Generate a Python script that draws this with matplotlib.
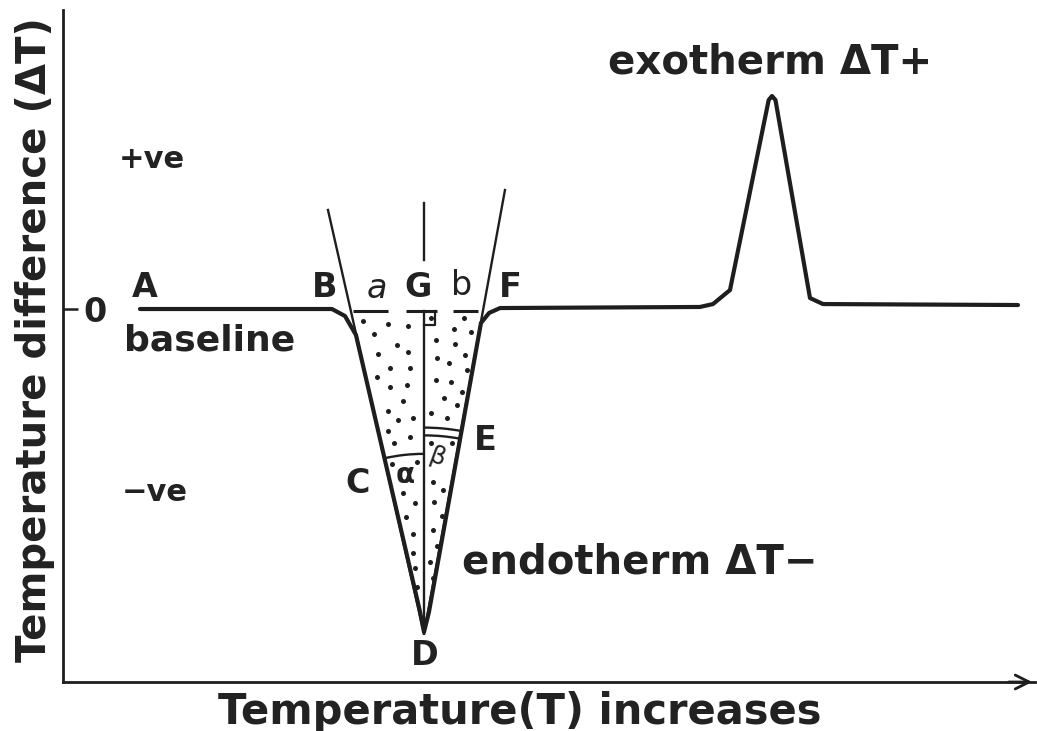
import matplotlib
matplotlib.use("Agg")
import matplotlib.pyplot as plt
from matplotlib.patches import Arc

plt.rcParams['font.family'] = ['DejaVu Sans']

# ---- data (schematic DTA curve) ----
curve_T  = [7.92, 27.67, 29.01, 30.14, 36.69, 37.14, 37.65, 43.00, 43.83, 44.96,
            65.53, 66.87, 68.62, 72.60, 72.94, 73.30, 76.85, 78.19, 98.25]
curve_dT = [0.0, 0.0, -0.72, -2.67, -30.97, -33.23, -31.17, -1.44, -0.41, 0.10,
            0.21, 0.51, 1.95, 21.5, 21.91, 21.5, 1.13, 0.51, 0.41]

D_point = (37.14, -33.40)
left_tangent_top = (27.26, 10.19)
right_tangent_top = (45.47, 12.24)
vert_T = 37.1
vert_upper = (10.9, 5.04)
vert_lower = (-0.21, -32.8)
dash_y = -0.21
dash_segments = [(29.84, 33.44), (35.29, 38.48), (40.12, 42.70)]
square_T = (37.1, 38.3)
square_dT = (-0.21, -1.65)
alpha_arc_r = 18.5
beta_arc_r = [20.4, 21.2]
left_angle, right_angle = 102.8, 79.6

# stipple dots inside the endotherm triangle
dots_T = [30.90, 33.47, 35.52, 32.03, 34.33, 32.38, 35.52, 33.64, 35.70, 32.27,
          33.64, 35.36, 34.95, 33.47, 34.50, 36.04, 33.47, 35.70, 34.08, 33.82,
          36.39, 35.01, 36.21, 35.29, 36.04, 35.98, 36.21, 36.39,
          37.86, 41.29, 40.26, 41.98, 38.34, 40.33, 41.36, 38.45, 39.71, 41.53,
          38.34, 39.92, 41.08, 39.23, 40.53, 37.86, 39.48, 37.86, 40.05, 38.04,
          39.06, 38.17, 38.96, 38.04, 38.51, 37.76, 38.04]
dots_dT = [-1.23, -1.57, -1.72, -2.60, -3.70, -4.63, -4.45, -6.10, -6.04, -6.97,
           -8.06, -7.85, -9.47, -10.49, -11.42, -11.18, -12.52, -13.14, -13.82, -15.98,
           -15.71, -18.90, -19.99, -21.43, -23.15, -25.07, -26.68, -28.63,
           -0.90, -0.90, -2.06, -2.40, -3.19, -3.63, -4.73, -5.07, -5.59, -6.28,
           -7.30, -7.48, -8.57, -9.13, -9.88, -10.73, -11.24, -13.82, -13.82, -17.77,
           -18.62, -19.89, -21.30, -22.74, -24.38, -26.06, -27.71]

labels = [
    ("A", 8.44, 2.26, {}), ("B", 26.95, 2.26, {}), ("a", 32.30, 2.06, {"style": "italic", "weight": "normal"}),
    ("G", 36.52, 2.26, {}), ("b", 41.05, 2.47, {"weight": "normal"}), ("F", 45.99, 2.26, {}),
    ("C", 30.35, -17.9, {}), ("E", 43.42, -13.48, {}), ("D", 37.24, -35.6, {}),
]

fig = plt.figure(figsize=(10.37, 7.31), dpi=100)
ax = fig.add_axes([63/1037, 1-682/731, 972/1037, 672/731])
ax.set_xlim(0, 100)
ax.set_ylim(-38.37, 30.76)

ink = '#1e1e1e'

# stipple
ax.scatter(dots_T, dots_dT, s=13, color=ink, linewidths=0, zorder=1)

# tangent lines
ax.plot([left_tangent_top[0], D_point[0]], [left_tangent_top[1], D_point[1]], color=ink, lw=1.7, zorder=2)
ax.plot([right_tangent_top[0], D_point[0]], [right_tangent_top[1], D_point[1]], color=ink, lw=1.7, zorder=2)

# vertical line through G
ax.plot([vert_T, vert_T], vert_upper, color=ink, lw=1.7)
ax.plot([vert_T, vert_T], vert_lower, color=ink, lw=1.7)

# dashed line a G b
for x0, x1 in dash_segments:
    ax.plot([x0, x1], [dash_y, dash_y], color=ink, lw=2.2, solid_capstyle='butt')

# right-angle square
ax.plot([square_T[0], square_T[1], square_T[1]], [square_dT[1], square_dT[1], square_dT[0]],
        color=ink, lw=1.6)

# angle arcs
ax.add_patch(Arc(D_point, 2*alpha_arc_r, 2*alpha_arc_r, theta1=90, theta2=left_angle, color=ink, lw=1.7))
for r in beta_arc_r:
    ax.add_patch(Arc(D_point, 2*r, 2*r, theta1=right_angle, theta2=90, color=ink, lw=1.7))

# main curve
ax.plot(curve_T, curve_dT, color=ink, lw=3.0, solid_joinstyle='round', solid_capstyle='round', zorder=3)

# spines / axes
for s in ['top', 'right']:
    ax.spines[s].set_visible(False)
ax.spines['left'].set_linewidth(2.0)
ax.spines['bottom'].set_linewidth(2.0)
ax.spines['left'].set_color(ink)
ax.spines['bottom'].set_color(ink)
ax.set_xticks([])
ax.set_yticks([0])
ax.set_yticklabels([''])
ax.tick_params(axis='y', direction='in', length=11, width=1.8, color=ink)
ax.annotate('', xy=(1.0, 0), xytext=(0.97, 0), xycoords='axes fraction',
            arrowprops=dict(arrowstyle='->', lw=2.0, color=ink, mutation_scale=25),
            annotation_clip=False)

txt = dict(ha='center', va='center', color='#222222', weight='bold')
ax.text(3.29, -0.31, "0", fontsize=24, **txt)
for s, x, y, extra in labels:
    kw = dict(txt); kw.update(extra)
    ax.text(x, y, s, fontsize=24, **kw)
ax.text(15.12, -3.19, "baseline", fontsize=26, **txt)
ax.text(9.16, 15.33, "+ve", fontsize=22, **txt)
ax.text(9.47, -18.83, "\u2212ve", fontsize=22, **txt)
ax.text(35.19, -17.08, "\u03b1", fontsize=20, **txt)
ax.text(38.48, -15.23, "\u03b2", fontsize=18, rotation=-20, **dict(txt, weight='normal'))
ax.text(72.74, 25.41, "exotherm \u0394T+", fontsize=29, **txt)
ax.text(59.36, -26.03, "endotherm \u0394T\u2212", fontsize=29, **txt)

fig.text(520/1037, 1-712/731, "Temperature(T) increases", fontsize=30, **txt)
fig.text(35/1037, 1-340/731, "Temperature difference (\u0394T)", fontsize=29, rotation=90, **txt)

fig.savefig("out.png", dpi=100)
